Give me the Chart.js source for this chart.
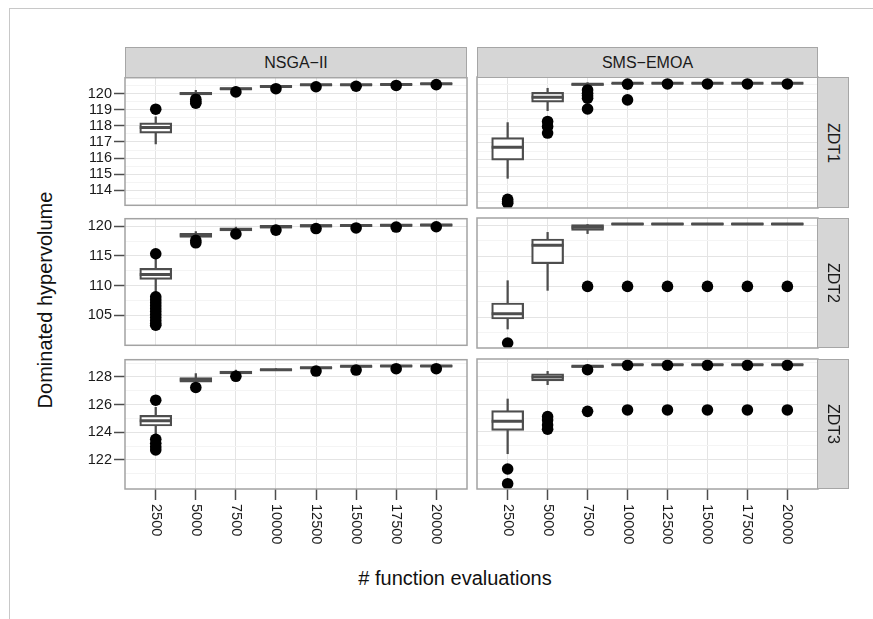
<!DOCTYPE html>
<html><head><meta charset="utf-8">
<script src="https://cdn.jsdelivr.net/npm/chart.js@4.4.0/dist/chart.umd.min.js"></script>
<style>
html,body{margin:0;padding:0;background:#fff;}
body{width:873px;height:619px;position:relative;overflow:hidden;font-family:"Liberation Sans",Arial,Helvetica,sans-serif;}
.frame{position:absolute;left:9px;top:8px;width:900px;height:700px;border-top:1px solid #c8c8c8;border-left:1px solid #c8c8c8;}
.strip{position:absolute;background:#d6d6d6;border:1px solid #a6a6a6;box-sizing:border-box;color:#1a1a1a;font-size:16px;display:flex;align-items:center;justify-content:center;z-index:2;}
.strip.r span{transform:rotate(90deg);white-space:nowrap;display:block;}
canvas{position:absolute;z-index:1;}
.title{position:absolute;color:#111;font-size:20px;white-space:nowrap;transform:translate(-50%,-50%);}
.title.y{transform:translate(-50%,-50%) rotate(-90deg);}
</style></head>
<body>
<div class="frame"></div>
<script>
// ---------------- data ----------------
const evals = ['2500','5000','7500','10000','12500','15000','17500','20000'];
const algorithms = ['NSGA\u2212II','SMS\u2212EMOA'];
const problems = ['ZDT1','ZDT2','ZDT3'];
const zdt1Ticks = [114,115,116,117,118,119,120];
const zdt2Ticks = [105,110,115,120];
const zdt3Ticks = [122,124,126,128];

// [lower whisker, Q1, median, Q3, upper whisker] per evaluation count
const nsgaZdt1Box = [
  [116.88,117.55,117.89,118.19,118.55],[119.85,119.92,120.00,120.08,120.20],
  [120.15,120.24,120.30,120.36,120.42],[120.35,120.39,120.44,120.49,120.52],
  [120.45,120.49,120.54,120.58,120.60],[120.47,120.50,120.54,120.58,120.60],
  [120.50,120.52,120.56,120.60,120.62],[120.54,120.56,120.60,120.63,120.65]];
const nsgaZdt1Out = [[119.03],[119.65,119.5,119.4],[120.1],[120.3],[120.42],[120.45],[120.5],[120.55]];

const smsZdt1Box = [
  [114.87,115.97,116.74,117.32,118.23],[118.95,119.46,119.76,120.06,120.30],
  [120.42,120.47,120.54,120.59,120.64],[120.55,120.58,120.60,120.62,120.65],
  [120.56,120.59,120.61,120.63,120.66],[120.56,120.59,120.61,120.63,120.66],
  [120.56,120.59,120.61,120.63,120.66],[120.56,120.59,120.61,120.63,120.66]];
const smsZdt1Out = [[113.6,113.45,113.36],[118.3,118.0,117.6],[120.2,120.0,119.85,119.7,119.05],[120.55,119.6],[120.56],[120.56],[120.56],[120.56]];

const nsgaZdt2Box = [
  [108.67,111.02,111.84,112.89,114.42],[117.9,118.10,118.45,118.80,119.07],
  [119.0,119.20,119.45,119.70,119.85],[119.6,119.65,119.90,120.15,120.2],
  [119.8,119.85,120.06,120.25,120.3],[119.85,119.9,120.10,120.28,120.32],
  [119.9,119.95,120.15,120.32,120.35],[119.95,120.0,120.20,120.36,120.4]];
const nsgaZdt2Out = [[115.35,108.1,107.6,107.1,106.6,106.1,105.6,105.1,104.6,104.1,103.6,103.3],[117.6,117.2],[118.69],[119.34],[119.6],[119.7],[119.85],[119.9]];

const smsZdt2Box = [
  [103.04,104.68,105.55,107.31,110.97],[109.38,113.76,116.77,117.82,118.90],
  [118.70,119.23,119.75,120.16,120.20],[120.15,120.18,120.28,120.38,120.4],
  [120.15,120.18,120.28,120.38,120.4],[120.15,120.18,120.28,120.38,120.4],
  [120.15,120.18,120.28,120.38,120.4],[120.15,120.18,120.28,120.38,120.4]];
const smsZdt2Out = [[100.74],[],[110.03],[110.03],[110.03],[110.03],[110.03],[110.03]];

const nsgaZdt3Box = [
  [123.73,124.45,124.83,125.22,125.80],[127.50,127.62,127.80,127.95,128.24],
  [128.10,128.22,128.33,128.43,128.50],[128.45,128.47,128.53,128.58,128.60],
  [128.55,128.61,128.67,128.72,128.75],[128.65,128.71,128.77,128.81,128.85],
  [128.70,128.75,128.80,128.85,128.87],[128.70,128.75,128.80,128.85,128.87]];
const nsgaZdt3Out = [[126.32,123.49,123.2,122.95,122.72],[127.24],[128.05],[],[128.43],[128.5],[128.6],[128.6]];

const smsZdt3Box = [
  [122.43,124.11,124.76,125.53,126.37],[127.40,127.67,127.95,128.19,128.36],
  [128.60,128.65,128.72,128.78,128.82],[128.78,128.80,128.84,128.88,128.90],
  [128.78,128.80,128.84,128.88,128.90],[128.78,128.80,128.84,128.88,128.90],
  [128.78,128.80,128.84,128.88,128.90],[128.78,128.80,128.84,128.88,128.90]];
const smsZdt3Out = [[121.33,120.27],[125.1,124.85,124.5,124.2],[128.48,125.48],[128.8,125.58],[128.8,125.58],[128.8,125.58],[128.8,125.58],[128.8,125.58]];

// ---------------- layout ----------------
const colX = [[125,467],[477,818]];
const rowY = [[77,208],[218,348],[359,489]];
const rowRange = [[113.08,120.98],[99.92,121.26],[119.89,129.25]];
const rowTicks = [zdt1Ticks, zdt2Ticks, zdt3Ticks];
const FONT = '"Liberation Sans", Arial, Helvetica, sans-serif';
Chart.defaults.font.family = FONT;

const panels = [
  {r:0,c:0,box:nsgaZdt1Box,out:nsgaZdt1Out},{r:0,c:1,box:smsZdt1Box,out:smsZdt1Out},
  {r:1,c:0,box:nsgaZdt2Box,out:nsgaZdt2Out},{r:1,c:1,box:smsZdt2Box,out:smsZdt2Out},
  {r:2,c:0,box:nsgaZdt3Box,out:nsgaZdt3Out},{r:2,c:1,box:smsZdt3Box,out:smsZdt3Out}];

function gridValues(ticks, lo, hi){
  const vals = ticks.slice();
  const step = ticks[1]-ticks[0];
  for (let i=0;i<ticks.length-1;i++) vals.push((ticks[i]+ticks[i+1])/2);
  const a = ticks[0]-step/2, b = ticks[ticks.length-1]+step/2;
  if (a>=lo) vals.push(a);
  if (b<=hi) vals.push(b);
  return vals.sort((p,q)=>p-q);
}
const isMajor = (v, ticks) => ticks.some(t => Math.abs(t-v) < 1e-6);

const panelFrame = {
  id:'panelFrame',
  afterDraw(chart, args, opts){
    const {ctx, chartArea:a} = chart;
    ctx.save();
    ctx.strokeStyle = '#a3a3a3'; ctx.lineWidth = 1.5;
    ctx.strokeRect(a.left, a.top, a.right-a.left, a.bottom-a.top);
    if (opts.xLabels){
      const xs = chart.scales.x;
      ctx.fillStyle = '#1a1a1a';
      ctx.font = '14.5px ' + FONT;
      ctx.textAlign = 'left'; ctx.textBaseline = 'middle';
      xs.ticks.forEach(t => {
        const x = xs.getPixelForValue(t.value);
        ctx.save(); ctx.translate(x, a.bottom + 15); ctx.rotate(Math.PI/2);
        ctx.fillText(evals[Math.round(t.value)-1], 0, 0); ctx.restore();
      });
    }
    ctx.restore();
  }
};

const PADL=8, PADR=6, PADT=10, PADB=8;
panels.forEach(p => {
  const isLeft = p.c===0, isBottom = p.r===2;
  const yW = isLeft ? 60 : 0, xH = isBottom ? 62 : 0;
  const [L,R] = colX[p.c], [T,B] = rowY[p.r];
  const [lo,hi] = rowRange[p.r];
  const ticks = rowTicks[p.r];
  const gv = gridValues(ticks, lo, hi);
  const cv = document.createElement('canvas');
  const W = (R-L)+PADL+yW+PADR, H = (B-T)+PADT+xH+PADB;
  cv.width = W; cv.height = H;
  cv.style.left = (L-PADL-yW)+'px'; cv.style.top = (T-PADT)+'px';
  cv.style.width = W+'px'; cv.style.height = H+'px';
  document.body.appendChild(cv);
  const xs = i => i+1;
  const datasets = [
    {type:'bar', order:4, grouped:false, barThickness:1.6, backgroundColor:'#4d4d4d', borderWidth:0,
     data: p.box.flatMap((b,i)=>[{x:xs(i),y:[b[0],b[1]]},{x:xs(i),y:[b[3],b[4]]}])},
    {type:'bar', order:3, grouped:false, barThickness:32, backgroundColor:'#ffffff', borderColor:'#4d4d4d',
     borderWidth:2.2, borderSkipped:false, data: p.box.map((b,i)=>({x:xs(i),y:[b[1],b[3]]}))},
    {type:'line', order:2, showLine:false, pointStyle:'line', pointRadius:16, pointBorderWidth:3,
     pointBorderColor:'#4d4d4d', data: p.box.map((b,i)=>({x:xs(i),y:b[2]}))},
    {type:'line', order:1, showLine:false, pointStyle:'circle', pointRadius:5.8, pointBorderWidth:0,
     pointBackgroundColor:'#000', data: p.out.flatMap((o,i)=>o.map(v=>({x:xs(i),y:v})))}
  ];
  new Chart(cv, {
    type:'bar',
    data:{datasets},
    options:{
      responsive:false, animation:false, devicePixelRatio:1, events:[],
      layout:{autoPadding:false, padding:{left:PADL,right:PADR,top:PADT,bottom:PADB}},
      plugins:{legend:{display:false}, tooltip:{enabled:false}, panelFrame:{xLabels:isBottom}},
      scales:{
        x:{type:'linear', min:0.233, max:8.767, offset:false,
           afterBuildTicks:s=>{ s.ticks = evals.map((e,i)=>({value:i+1})); },
           afterFit:s=>{ s.height = xH; },
           ticks:{display:false, autoSkip:false},
           grid:{offset:false, color:'#e4e4e4', lineWidth:1, drawTicks:isBottom, tickLength:11, tickColor:'#4d4d4d', tickWidth:1.5},
           border:{display:false}},
        y:{type:'linear', min:lo, max:hi,
           afterBuildTicks:s=>{ s.ticks = gv.map(v=>({value:v})); },
           afterFit:s=>{ s.width = yW; },
           ticks:{display:isLeft, autoSkip:false, padding:2, color:'#1a1a1a', font:{size:14.5},
                  callback:v=> isMajor(v,ticks) ? String(v) : ''},
           grid:{color:c=> (c.tick && isMajor(c.tick.value,ticks)) ? '#e4e4e4' : '#f4f4f4', lineWidth:1,
                 drawTicks:isLeft, tickLength:11, tickWidth:1.5,
                 tickColor:c=> (c.tick && isMajor(c.tick.value,ticks)) ? '#4d4d4d' : 'rgba(0,0,0,0)'},
           border:{display:false}}
      }
    },
    plugins:[panelFrame]
  });
});

// strips and titles
algorithms.forEach((a,c) => {
  const d = document.createElement('div'); d.className='strip';
  d.style.left = colX[c][0]+'px'; d.style.top='47px';
  d.style.width = (colX[c][1]-colX[c][0])+'px'; d.style.height='31px';
  d.textContent = a; document.body.appendChild(d);
});
problems.forEach((pr,r) => {
  const d = document.createElement('div'); d.className='strip r';
  d.style.left='817px'; d.style.top = rowY[r][0]+'px';
  d.style.width='32px'; d.style.height=(rowY[r][1]-rowY[r][0])+'px';
  const s = document.createElement('span'); s.textContent = pr; d.appendChild(s);
  document.body.appendChild(d);
});
const xt = document.createElement('div'); xt.className='title';
xt.style.left='455px'; xt.style.top='578px'; xt.textContent='# function evaluations';
document.body.appendChild(xt);
const yt = document.createElement('div'); yt.className='title y';
yt.style.left='45px'; yt.style.top='300px'; yt.textContent='Dominated hypervolume';
document.body.appendChild(yt);
</script>
</body></html>
